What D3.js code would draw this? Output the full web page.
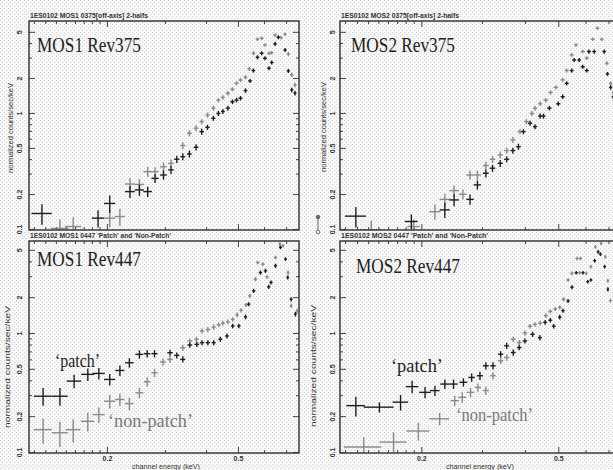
<!DOCTYPE html>
<html>
<head>
<meta charset="utf-8">
<script src="https://cdn.jsdelivr.net/npm/d3@7"></script>
<style>
  html, body { margin: 0; padding: 0; background: #f3f3f3; }
  svg { display: block; }
</style>
</head>
<body>
<div id="wrapper"></div>
<script>
// each point: [energy keV, normalized counts/sec/keV, half bin width keV, relative error]
const mos1r375Dark = [
  [0.127,0.136,0.009,0.2],[0.188,0.124,0.008,0.17],[0.204,0.166,0.008,0.17],[0.235,0.210,0.008,0.12],
  [0.251,0.217,0.008,0.11],[0.266,0.210,0.008,0.1],[0.280,0.273,0.007,0.09],[0.297,0.292,0.007,0.09],
  [0.313,0.323,0.006,0.08],[0.326,0.399,0.006,0.07],[0.340,0.420,0.006,0.07],[0.356,0.443,0.006,0.07],
  [0.373,0.506,0.006,0.06],[0.388,0.690,0.006,0.06],[0.404,0.752,0.006,0.05],[0.421,0.90,0.006,0.05],
  [0.436,0.99,0.006,0.05],[0.450,1.03,0.006,0.05],[0.466,1.10,0.007,0.05],[0.481,1.25,0.007,0.045],
  [0.495,1.29,0.007,0.045],[0.509,1.34,0.007,0.045],[0.527,1.56,0.007,0.045],[0.544,1.89,0.007,0.04],
  [0.557,2.32,0.007,0.04],[0.573,3.02,0.007,0.04],[0.590,3.27,0.008,0.04],[0.604,2.96,0.008,0.04],
  [0.621,2.43,0.008,0.04],[0.633,2.72,0.008,0.04],[0.648,3.94,0.008,0.04],[0.663,4.49,0.008,0.04],
  [0.695,3.49,0.008,0.04],[0.711,2.30,0.008,0.04],[0.728,1.58,0.008,0.045],[0.745,1.48,0.008,0.045]
];
const mos1r375Light = [
  [0.144,0.101,0.009,0.2],[0.158,0.105,0.009,0.2],[0.204,0.124,0.008,0.17],[0.219,0.128,0.008,0.17],
  [0.235,0.244,0.008,0.12],[0.251,0.242,0.008,0.11],[0.266,0.312,0.008,0.1],[0.280,0.312,0.007,0.09],
  [0.297,0.344,0.007,0.09],[0.313,0.368,0.006,0.08],[0.340,0.523,0.006,0.07],[0.356,0.668,0.006,0.06],
  [0.373,0.738,0.006,0.06],[0.388,0.842,0.006,0.05],[0.404,0.96,0.006,0.05],[0.421,1.10,0.006,0.05],
  [0.436,1.29,0.006,0.045],[0.450,1.36,0.006,0.045],[0.466,1.48,0.007,0.045],[0.481,1.60,0.007,0.04],
  [0.495,1.80,0.007,0.04],[0.509,1.92,0.007,0.04],[0.527,2.03,0.007,0.04],[0.541,2.40,0.007,0.04],
  [0.557,3.27,0.007,0.04],[0.573,4.32,0.007,0.035],[0.590,4.40,0.008,0.035],[0.604,3.86,0.008,0.035],
  [0.621,3.27,0.008,0.035],[0.633,3.31,0.008,0.035],[0.648,4.70,0.008,0.035],[0.676,4.46,0.008,0.035],
  [0.695,4.77,0.008,0.035],[0.711,3.23,0.008,0.04],[0.728,2.13,0.008,0.04],[0.745,1.74,0.008,0.045]
];
const mos2r375Dark = [
  [0.129,0.129,0.009,0.2],[0.187,0.116,0.008,0.15],[0.234,0.146,0.008,0.15],[0.249,0.178,0.008,0.12],
  [0.277,0.180,0.007,0.1],[0.291,0.240,0.007,0.09],[0.308,0.302,0.006,0.08],[0.322,0.334,0.006,0.07],
  [0.339,0.368,0.006,0.07],[0.354,0.399,0.006,0.06],[0.369,0.474,0.006,0.06],[0.383,0.512,0.006,0.06],
  [0.396,0.690,0.006,0.05],[0.414,0.815,0.006,0.05],[0.428,0.762,0.006,0.05],[0.443,0.94,0.006,0.05],
  [0.453,0.94,0.006,0.05],[0.471,1.10,0.007,0.045],[0.500,1.20,0.007,0.045],[0.515,1.38,0.007,0.045],
  [0.529,1.80,0.007,0.04],[0.547,2.32,0.007,0.04],[0.556,2.86,0.007,0.04],[0.575,2.86,0.007,0.04],
  [0.589,2.50,0.008,0.04],[0.605,2.32,0.008,0.04],[0.614,3.38,0.008,0.04],[0.636,3.38,0.008,0.04],
  [0.680,3.38,0.008,0.04],[0.695,2.17,0.008,0.04],[0.710,1.66,0.008,0.045],[0.723,1.38,0.008,0.045]
];
const mos2r375Light = [
  [0.143,0.098,0.010,0.2],[0.190,0.105,0.008,0.15],[0.219,0.141,0.008,0.15],[0.234,0.180,0.008,0.12],
  [0.249,0.214,0.008,0.11],[0.264,0.199,0.007,0.1],[0.277,0.292,0.007,0.09],[0.291,0.292,0.007,0.09],
  [0.308,0.352,0.006,0.08],[0.322,0.399,0.006,0.07],[0.339,0.435,0.006,0.07],[0.354,0.474,0.006,0.06],
  [0.369,0.585,0.006,0.06],[0.387,0.690,0.006,0.05],[0.404,0.842,0.006,0.05],[0.419,0.99,0.006,0.05],
  [0.428,1.10,0.006,0.05],[0.443,1.20,0.006,0.045],[0.460,1.29,0.007,0.045],[0.475,1.50,0.007,0.04],
  [0.492,1.66,0.007,0.04],[0.515,1.93,0.007,0.04],[0.529,2.32,0.007,0.04],[0.547,3.16,0.007,0.035],
  [0.563,3.86,0.007,0.035],[0.589,3.38,0.008,0.035],[0.605,2.97,0.008,0.035],[0.630,4.32,0.008,0.035],
  [0.650,5.37,0.008,0.035],[0.669,4.32,0.008,0.035],[0.692,2.68,0.008,0.04],[0.710,1.80,0.008,0.04],
  [0.723,1.50,0.008,0.045]
];
const mos1r447Patch = [
  [0.128,0.294,0.008,0.17],[0.144,0.294,0.008,0.17],[0.159,0.394,0.008,0.13],[0.175,0.449,0.008,0.12],
  [0.189,0.457,0.008,0.11],[0.204,0.407,0.008,0.11],[0.219,0.484,0.007,0.1],[0.234,0.562,0.007,0.09],
  [0.251,0.661,0.007,0.08],[0.265,0.670,0.006,0.07],[0.279,0.670,0.006,0.07],[0.311,0.683,0.006,0.06],
  [0.326,0.648,0.006,0.06],[0.340,0.600,0.006,0.06],[0.357,0.792,0.006,0.05],[0.375,0.802,0.006,0.05],
  [0.389,0.829,0.006,0.05],[0.405,0.829,0.006,0.05],[0.422,0.829,0.006,0.05],[0.442,0.885,0.006,0.05],
  [0.463,0.944,0.006,0.05],[0.482,1.146,0.006,0.045],[0.503,1.146,0.006,0.045],[0.527,1.364,0.006,0.045],
  [0.539,1.745,0.006,0.04],[0.558,2.26,0.007,0.04],[0.585,3.22,0.007,0.04],[0.606,3.33,0.007,0.04],
  [0.620,2.44,0.007,0.04],[0.630,2.66,0.007,0.04],[0.650,3.67,0.007,0.04],[0.673,5.24,0.007,0.035],
  [0.697,4.18,0.007,0.035],[0.708,2.93,0.007,0.04],[0.725,1.92,0.007,0.04],[0.747,1.44,0.007,0.045]
];
const mos1r447NonPatch = [
  [0.128,0.154,0.008,0.24],[0.144,0.145,0.008,0.24],[0.158,0.154,0.008,0.22],[0.175,0.181,0.008,0.18],
  [0.189,0.206,0.008,0.15],[0.204,0.267,0.008,0.13],[0.219,0.276,0.007,0.12],[0.234,0.255,0.007,0.12],
  [0.251,0.314,0.007,0.1],[0.265,0.389,0.006,0.09],[0.279,0.463,0.006,0.08],[0.296,0.570,0.006,0.07],
  [0.311,0.600,0.006,0.07],[0.340,0.752,0.006,0.06],[0.357,0.857,0.006,0.05],[0.374,0.885,0.006,0.05],
  [0.389,1.04,0.006,0.05],[0.405,1.07,0.006,0.05],[0.422,1.12,0.006,0.05],[0.437,1.17,0.006,0.045],
  [0.450,1.21,0.006,0.045],[0.466,1.24,0.006,0.045],[0.482,1.30,0.006,0.045],[0.497,1.42,0.006,0.045],
  [0.511,1.55,0.006,0.04],[0.529,1.72,0.006,0.04],[0.543,2.05,0.006,0.04],[0.565,2.83,0.007,0.04],
  [0.574,3.91,0.007,0.035],[0.595,3.79,0.007,0.035],[0.613,2.96,0.007,0.035],[0.650,4.31,0.007,0.035],
  [0.670,5.59,0.007,0.035],[0.685,5.41,0.007,0.035],[0.710,3.22,0.007,0.04],[0.725,1.69,0.007,0.04],
  [0.756,1.53,0.007,0.045]
];
const mos2r447Patch = [
  [0.129,0.245,0.008,0.19],[0.151,0.238,0.015,0.1],[0.174,0.262,0.009,0.15],[0.188,0.354,0.008,0.12],
  [0.205,0.317,0.008,0.11],[0.219,0.328,0.007,0.1],[0.234,0.372,0.007,0.09],[0.248,0.372,0.007,0.09],
  [0.265,0.385,0.007,0.08],[0.280,0.423,0.006,0.08],[0.296,0.437,0.006,0.08],[0.308,0.530,0.006,0.07],
  [0.323,0.530,0.006,0.07],[0.340,0.663,0.006,0.06],[0.354,0.779,0.006,0.06],[0.370,0.685,0.006,0.06],
  [0.385,0.754,0.006,0.05],[0.400,0.857,0.006,0.05],[0.421,0.975,0.006,0.05],[0.442,0.914,0.006,0.05],
  [0.458,1.23,0.006,0.045],[0.474,1.28,0.006,0.045],[0.485,1.14,0.006,0.045],[0.505,1.36,0.006,0.045],
  [0.516,1.54,0.006,0.04],[0.534,1.86,0.006,0.04],[0.548,2.42,0.006,0.04],[0.564,3.21,0.006,0.035],
  [0.590,3.21,0.006,0.035],[0.609,2.70,0.006,0.035],[0.622,2.79,0.006,0.035],[0.638,4.05,0.006,0.035],
  [0.653,4.81,0.006,0.035],[0.663,4.60,0.006,0.035],[0.682,3.61,0.006,0.035],[0.697,2.33,0.006,0.04]
];
const mos2r447NonPatch = [
  [0.136,0.110,0.017,0.21],[0.166,0.121,0.015,0.21],[0.196,0.150,0.015,0.17],[0.226,0.190,0.015,0.12],
  [0.250,0.270,0.007,0.1],[0.263,0.288,0.007,0.1],[0.278,0.317,0.007,0.09],[0.292,0.349,0.006,0.08],
  [0.308,0.328,0.006,0.08],[0.323,0.437,0.006,0.07],[0.340,0.583,0.006,0.06],[0.354,0.622,0.006,0.06],
  [0.370,0.885,0.006,0.05],[0.385,0.830,0.006,0.05],[0.400,1.00,0.006,0.05],[0.414,1.14,0.006,0.045],
  [0.428,1.18,0.006,0.045],[0.443,1.21,0.006,0.045],[0.460,1.40,0.006,0.045],[0.474,1.52,0.006,0.04],
  [0.490,1.59,0.006,0.04],[0.505,1.64,0.006,0.04],[0.518,1.92,0.006,0.04],[0.534,2.79,0.006,0.035],
  [0.548,3.17,0.006,0.035],[0.567,4.23,0.006,0.035],[0.577,3.21,0.006,0.035],[0.580,4.23,0.006,0.035],
  [0.603,3.17,0.006,0.035],[0.622,3.61,0.006,0.035],[0.641,5.30,0.006,0.035],[0.666,5.65,0.006,0.035],
  [0.685,4.37,0.006,0.035],[0.697,2.75,0.006,0.04],[0.709,1.87,0.006,0.04]
];

const xMajor = [0.2, 0.5];
const xMinor = [0.12, 0.13, 0.14, 0.15, 0.16, 0.17, 0.18, 0.19, 0.3, 0.4, 0.6, 0.7];
const yMajor = [0.1, 0.2, 0.5, 1, 2, 5];
const yMinor = [0.3, 0.4, 0.6, 0.7, 0.8, 0.9, 3, 4];
const energyDomain = [0.116, 0.766];

const titles = [
  "1ES0102 MOS1 0375[off-axis] 2-halfs",
  "1ES0102 MOS2 0375[off-axis] 2-halfs",
  "1ES0102 MOS1 0447 'Patch' and 'Non-Patch'",
  "1ES0102 MOS2 0447 'Patch' and 'Non-Patch'"
];
const names = ["MOS1 Rev375", "MOS2 Rev375", "MOS1 Rev447", "MOS2 Rev447"];

const darkCol = "#1e1e1e", greyCol = "#8a8a8a";

var panels = [
  { x0: 29, x1: 299, y0: 21, y1: 230, yTop: 6.2, title: titles[0], titleLen: 118, name: names[0], nameX: 37, nameY: 52,
    dark: mos1r375Dark, light: mos1r375Light, tickX: 20, labX: 11, labY: 128, labLen: 90, xlab: false },
  { x0: 340, x1: 622, y0: 21, y1: 230, yTop: 6.2, title: titles[1], titleLen: 118, name: names[1], nameX: 351, nameY: 52,
    dark: mos2r375Dark, light: mos2r375Light, tickX: 333, labX: 324, labY: 127, labLen: 90, xlab: false },
  { x0: 29, x1: 299, y0: 241, y1: 453, yTop: 5.93, title: titles[2], titleLen: 141, name: names[2], nameX: 37, nameY: 266,
    dark: mos1r447Patch, light: mos1r447NonPatch, tickX: 20, labX: 8, labY: 367, labLen: 122, xlab: true, xlabX: 166,
    patch: [55, 367, 45], nonpatch: [108, 427, 85] },
  { x0: 340, x1: 622, y0: 241, y1: 453, yTop: 5.93, title: titles[3], titleLen: 147, name: names[3], nameX: 356, nameY: 273,
    dark: mos2r447Patch, light: mos2r447NonPatch, tickX: 333, labX: 314, labY: 366, labLen: 122, xlab: true, xlabX: 480,
    patch: [391, 372, 52], nonpatch: [456, 421, 77] }
];

const svg = d3.select("#wrapper").append("svg")
    .attr("width", 613)
    .attr("height", 470);

const defs = svg.append("defs");
const pat = defs.append("pattern").attr("id", "dots")
    .attr("width", 4).attr("height", 4).attr("patternUnits", "userSpaceOnUse");
pat.append("rect").attr("width", 4).attr("height", 4).attr("fill", "#f7f7f7");
pat.append("rect").attr("x", 0).attr("y", 0).attr("width", 1).attr("height", 1).attr("fill", "#d4d4d4");
pat.append("rect").attr("x", 2).attr("y", 2).attr("width", 1).attr("height", 1).attr("fill", "#d4d4d4");
svg.append("rect").attr("width", 613).attr("height", 470).attr("fill", "url(#dots)");

function smallText(sel) {
    return sel.attr("font-family", "'Liberation Sans', Arial, sans-serif")
        .attr("font-weight", "bold").attr("fill", "#333");
}

panels.forEach((p, i) => {
    const x = d3.scaleLog().domain(energyDomain).range([p.x0, p.x1]);
    const y = d3.scaleLog().domain([0.098, p.yTop]).range([p.y1, p.y0]);
    const g = svg.append("g");

    defs.append("clipPath").attr("id", "clip" + i).append("rect")
        .attr("x", p.x0).attr("y", p.y0)
        .attr("width", p.x1 - p.x0).attr("height", p.y1 - p.y0);

    // title above the frame
    smallText(g.append("text"))
        .attr("x", p.x0 + 1).attr("y", p.y0 - 3)
        .attr("font-size", 6.5)
        .attr("textLength", p.titleLen).attr("lengthAdjust", "spacingAndGlyphs")
        .text(p.title);

    // ticks on all four sides, pointing inward
    const addAxis = (axis, tx, ty) => {
        const a = g.append("g").attr("transform", `translate(${tx},${ty})`).call(axis);
        a.select(".domain").remove();
        a.selectAll("line").attr("stroke", "#444").attr("stroke-width", 1);
        return a;
    };
    addAxis(d3.axisLeft(y).tickValues(yMinor).tickSizeInner(-3).tickSizeOuter(0).tickFormat(""), p.x0, 0);
    addAxis(d3.axisRight(y).tickValues(yMinor).tickSizeInner(-3).tickSizeOuter(0).tickFormat(""), p.x1, 0);
    addAxis(d3.axisRight(y).tickValues(yMajor).tickSizeInner(-6).tickSizeOuter(0).tickFormat(""), p.x1, 0);
    addAxis(d3.axisTop(x).tickValues(xMinor).tickSizeInner(-3).tickSizeOuter(0).tickFormat(""), 0, p.y0);
    addAxis(d3.axisTop(x).tickValues(xMajor).tickSizeInner(-6).tickSizeOuter(0).tickFormat(""), 0, p.y0);
    addAxis(d3.axisBottom(x).tickValues(xMinor).tickSizeInner(-3).tickSizeOuter(0).tickFormat(""), 0, p.y1);

    const left = addAxis(d3.axisLeft(y).tickValues(yMajor).tickSizeInner(-6).tickSizeOuter(0)
        .tickFormat(d => String(d)), p.x0, 0);
    smallText(left.selectAll("text"))
        .attr("font-size", 7)
        .attr("x", 0).attr("y", p.tickX - p.x0).attr("dy", "0.35em")
        .attr("text-anchor", "middle")
        .attr("transform", "rotate(-90)");

    const bottom = addAxis(d3.axisBottom(x).tickValues(xMajor).tickSizeInner(-6).tickSizeOuter(0)
        .tickPadding(3).tickFormat(p.xlab ? (d => String(d)) : ""), 0, p.y1);
    smallText(bottom.selectAll("text")).attr("font-size", 7);

    // error-bar crosses
    const marks = g.append("g").attr("clip-path", `url(#clip${i})`);
    [[p.light, greyCol], [p.dark, darkCol]].forEach(([data, col]) => {
        const c = marks.append("g").attr("stroke", col).attr("stroke-width", 1.4)
            .selectAll("g").data(data).enter().append("g");
        c.append("line")
            .attr("x1", d => x(d[0] - d[2])).attr("x2", d => x(d[0] + d[2]))
            .attr("y1", d => y(d[1])).attr("y2", d => y(d[1]));
        c.append("line")
            .attr("x1", d => x(d[0])).attr("x2", d => x(d[0]))
            .attr("y1", d => y(d[1] * (1 - d[3]))).attr("y2", d => y(d[1] * (1 + d[3])));
    });

    // frame
    g.append("rect")
        .attr("x", p.x0).attr("y", p.y0)
        .attr("width", p.x1 - p.x0).attr("height", p.y1 - p.y0)
        .attr("fill", "none").attr("stroke", "#3a3a3a").attr("stroke-width", 1.5);

    // y axis title
    smallText(g.append("text"))
        .attr("font-size", 6.5).attr("font-weight", "normal")
        .attr("text-anchor", "middle")
        .attr("transform", `translate(${p.labX},${p.labY}) rotate(-90)`)
        .attr("dy", "0.35em")
        .attr("textLength", p.labLen).attr("lengthAdjust", "spacingAndGlyphs")
        .text("normalized counts/sec/keV");

    if (p.xlab) {
        smallText(g.append("text"))
            .attr("font-size", 6.5).attr("font-weight", "normal")
            .attr("x", p.xlabX).attr("y", 469)
            .attr("text-anchor", "middle")
            .attr("textLength", 68).attr("lengthAdjust", "spacingAndGlyphs")
            .text("channel energy (keV)");
    }

    // big panel name
    g.append("text")
        .attr("x", p.nameX).attr("y", p.nameY)
        .attr("font-family", "'Liberation Serif', 'Times New Roman', serif")
        .attr("font-size", 21).attr("fill", "#222")
        .attr("textLength", 104).attr("lengthAdjust", "spacingAndGlyphs")
        .text(p.name);

    if (p.patch) {
        g.append("text")
            .attr("x", p.patch[0]).attr("y", p.patch[1])
            .attr("font-family", "'Liberation Serif', 'Times New Roman', serif")
            .attr("font-size", 19).attr("fill", "#222")
            .attr("textLength", p.patch[2]).attr("lengthAdjust", "spacingAndGlyphs")
            .text("\u2018patch\u2019");
        g.append("text")
            .attr("x", p.nonpatch[0]).attr("y", p.nonpatch[1])
            .attr("font-family", "'Liberation Serif', 'Times New Roman', serif")
            .attr("font-size", 19).attr("fill", "#7a7a7a")
            .attr("textLength", p.nonpatch[2]).attr("lengthAdjust", "spacingAndGlyphs")
            .text("\u2018non-patch\u2019");
    }
});

// small marker glyph left of the upper right panel
const glyph = svg.append("g").attr("stroke", "#666").attr("stroke-width", 1);
glyph.append("line").attr("x1", 318).attr("x2", 318).attr("y1", 217).attr("y2", 231);
glyph.append("circle").attr("cx", 318).attr("cy", 217).attr("r", 1.8).attr("fill", "#666");
glyph.append("circle").attr("cx", 318).attr("cy", 232).attr("r", 1.8).attr("fill", "#fff");
</script>
</body>
</html>
